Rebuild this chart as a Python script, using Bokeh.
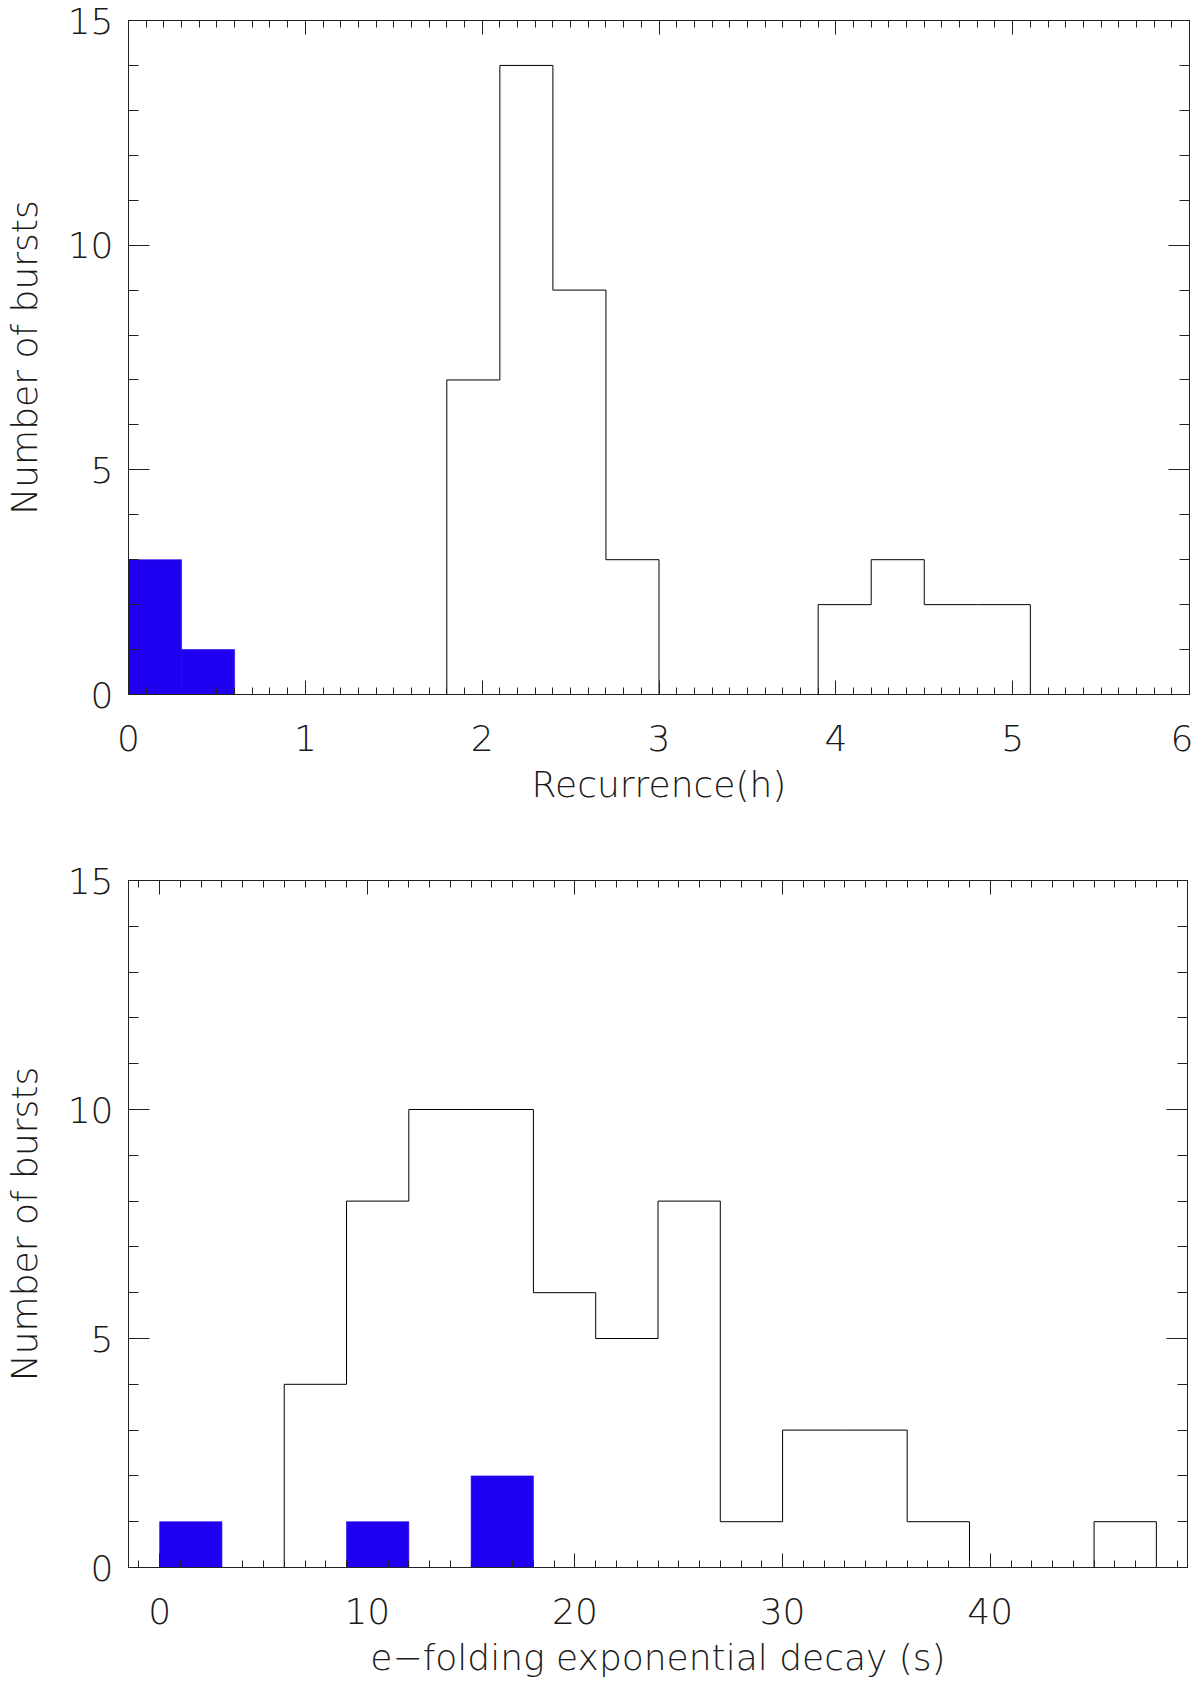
from bokeh.plotting import figure
from bokeh.models import LinearAxis, SingleIntervalTicker, Range1d, CustomLabelingPolicy
from bokeh.layouts import column
from bokeh.embed import file_html
from bokeh.resources import INLINE

# ---------------- data ----------------
# Top panel: recurrence time histogram (bin width 0.3 h)
rec_edges = [0.0, 0.3, 0.6, 0.9, 1.2, 1.5, 1.8, 2.1, 2.4, 2.7, 3.0,
             3.3, 3.6, 3.9, 4.2, 4.5, 4.8, 5.1, 5.4, 5.7, 6.0]
rec_all = [0, 0, 0, 0, 0, 0, 7, 14, 9, 3, 0, 0, 0, 2, 3, 2, 2, 0, 0, 0]
rec_blue = [3, 1, 0, 0, 0, 0, 0, 0, 0, 0, 0, 0, 0, 0, 0, 0, 0, 0, 0, 0]

# Bottom panel: e-folding decay time histogram (bin width 3 s)
dec_edges = [0, 3, 6, 9, 12, 15, 18, 21, 24, 27, 30, 33, 36, 39, 42, 45, 48]
dec_all = [0, 0, 4, 8, 10, 10, 6, 5, 8, 1, 3, 3, 1, 0, 0, 1]
dec_blue = [1, 0, 0, 1, 0, 2, 0, 0, 0, 0, 0, 0, 0, 0, 0, 0]

ylabel = "Number of bursts"
xlabel_top = "Recurrence(h)"
xlabel_bot = "e\u2212folding exponential decay (s)"

FONT = "'DejaVu Sans Light', 'DejaVu Sans ExtraLight', 'DejaVu Sans', sans-serif"
TXT = "#1a1a1a"
LINE = "#222222"
BLUE = "#2000f0"

HIDE = """
try { return new indices.constructor(indices.size, 0) } catch (e) { return indices }
"""


def step_path(edges, counts):
    xs, ys = [edges[0]], [0]
    for i, c in enumerate(counts):
        xs += [edges[i], edges[i + 1]]
        ys += [c, c]
    xs.append(edges[-1])
    ys.append(0)
    return xs, ys


def make_panel(edges, all_counts, blue_counts, xr, x_int, xlabel,
               frame_w, frame_h, b_left, b_right, b_top, b_bot):
    p = figure(frame_width=frame_w, frame_height=frame_h,
               x_range=Range1d(*xr), y_range=Range1d(0, 15),
               x_axis_type=None, y_axis_type=None,
               output_backend="svg", toolbar_location=None,
               min_border_left=b_left, min_border_right=b_right,
               min_border_top=b_top, min_border_bottom=b_bot)
    p.outline_line_color = None
    p.background_fill_color = "white"
    p.border_fill_color = "white"

    p.quad(left=edges[:-1], right=edges[1:], top=blue_counts, bottom=0,
           fill_color=BLUE, line_color=BLUE, line_width=0.6)
    xs, ys = step_path(edges, all_counts)
    p.line(xs, ys, line_color="black", line_width=1)

    xlen_major, xlen_minor = 14, 7
    ylen_major, ylen_minor = 21, 10

    def common(ax, major, minor):
        ax.major_tick_in = major
        ax.major_tick_out = 0
        ax.minor_tick_in = minor
        ax.minor_tick_out = 0
        ax.axis_line_color = LINE
        ax.major_tick_line_color = LINE
        ax.minor_tick_line_color = LINE

    def labelled(ax, label, standoff, title_standoff):
        ax.axis_label = label
        ax.major_label_text_font = FONT
        ax.major_label_text_font_size = "36px"
        ax.major_label_text_color = TXT
        ax.major_label_standoff = standoff
        ax.axis_label_text_font = FONT
        ax.axis_label_text_font_size = "36px"
        ax.axis_label_text_font_style = "normal"
        ax.axis_label_text_color = TXT
        ax.axis_label_standoff = title_standoff

    def hidden(ax):
        ax.major_label_text_font_size = "1px"
        ax.major_label_standoff = 0
        ax.major_label_policy = CustomLabelingPolicy(code=HIDE)

    xb = LinearAxis(ticker=SingleIntervalTicker(interval=x_int, num_minor_ticks=10))
    common(xb, xlen_major, xlen_minor)
    labelled(xb, xlabel, 30, 10)
    p.add_layout(xb, "below")

    xt = LinearAxis(ticker=SingleIntervalTicker(interval=x_int, num_minor_ticks=10))
    common(xt, xlen_major, xlen_minor)
    hidden(xt)
    p.add_layout(xt, "above")

    yl = LinearAxis(ticker=SingleIntervalTicker(interval=5, num_minor_ticks=5))
    common(yl, ylen_major, ylen_minor)
    labelled(yl, ylabel, 15, 20)
    p.add_layout(yl, "left")

    yr = LinearAxis(ticker=SingleIntervalTicker(interval=5, num_minor_ticks=5))
    common(yr, ylen_major, ylen_minor)
    hidden(yr)
    p.add_layout(yr, "right")
    return p


p1 = make_panel(rec_edges, rec_all, rec_blue, (0, 6), 1, xlabel_top,
                1061, 674, 119, 4, 20, 126)
p2 = make_panel(dec_edges, dec_all, dec_blue, (-1.5, 49.5), 10, xlabel_bot,
                1059, 687, 122, 3, 60, 100)

layout = column(p1, p2)
open("out.html", "w").write(file_html(layout, INLINE))
